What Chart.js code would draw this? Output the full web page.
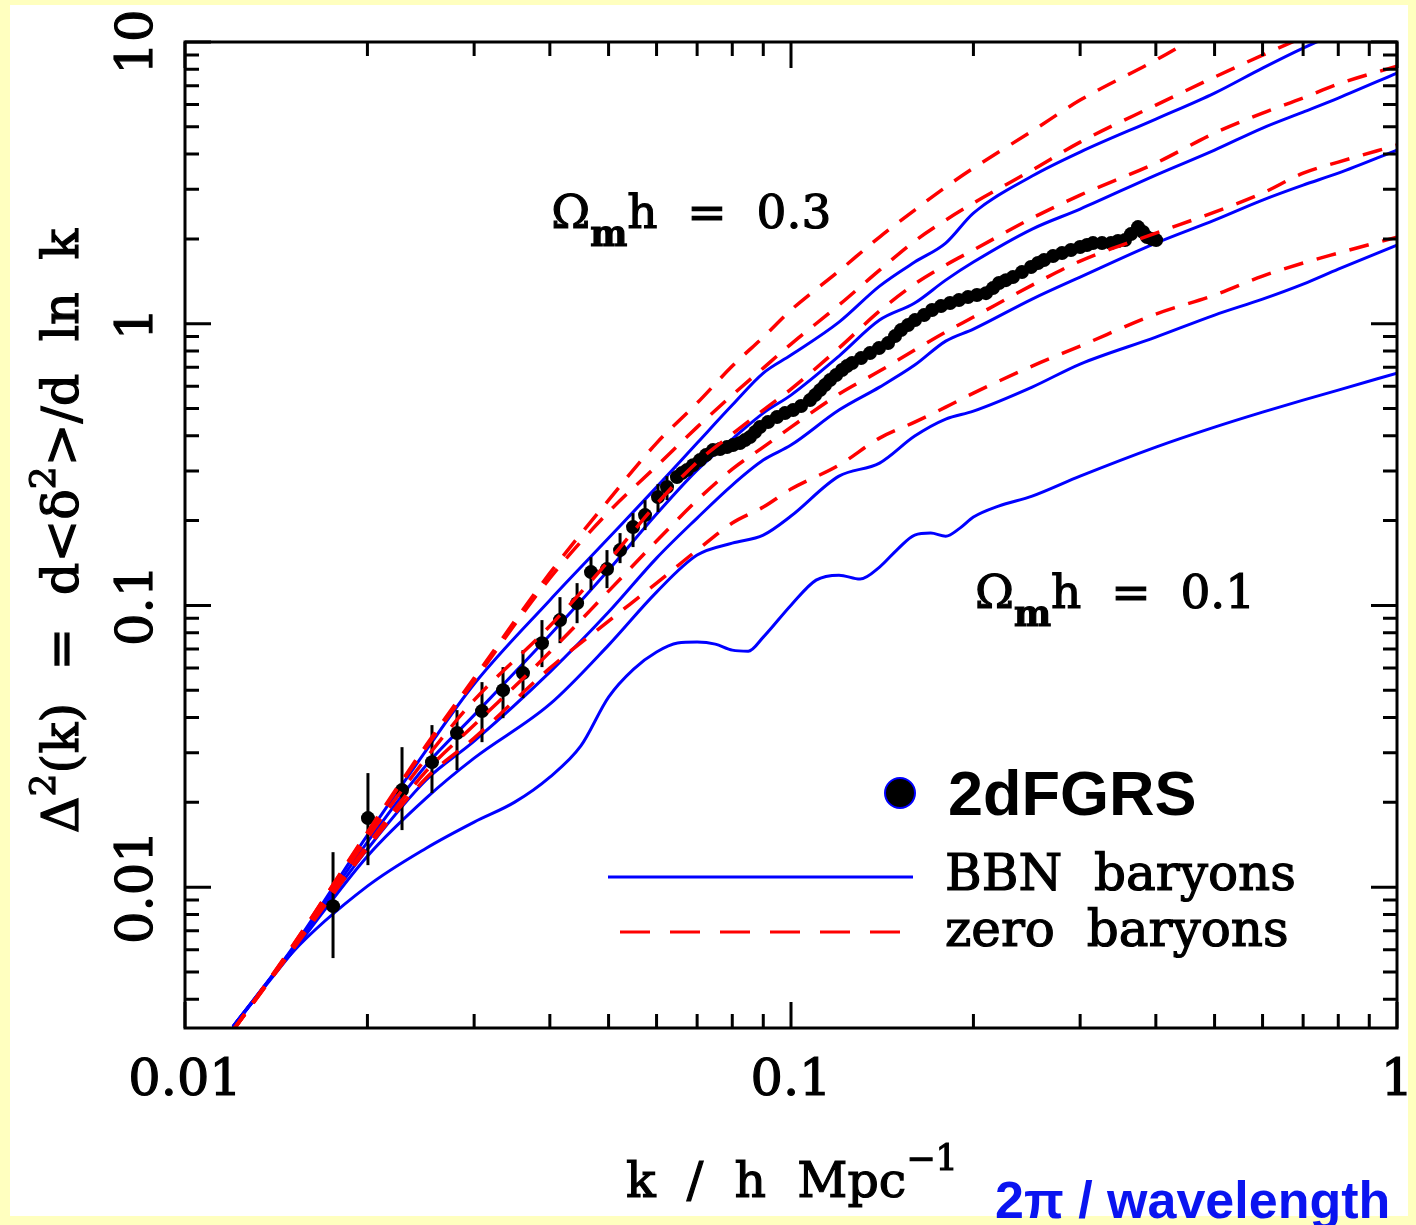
<!DOCTYPE html>
<html>
<head>
<meta charset="utf-8">
<script src="https://cdn.jsdelivr.net/npm/chart.js@4.4.1/dist/chart.umd.min.js"></script>
<style>
  html, body { margin: 0; padding: 0; background: #FFFFBF; }
</style>
</head>
<body>
<canvas id="grafico" width="1416" height="1225"></canvas>
<script>
// Delta^2(k) power spectrum: 2dFGRS points vs model curves (log-log)

// k grid shared by most model curves (h/Mpc)
const kModel = [0.012, 0.015, 0.02, 0.025, 0.03, 0.04, 0.05, 0.06, 0.07, 0.08, 0.09, 0.1,
  0.12, 0.14, 0.16, 0.18, 0.2, 0.25, 0.3, 0.4, 0.5, 0.6, 0.7, 0.8, 1.0];

// zero baryons (red dashed), top to bottom
const cero1 = [0.0031, 0.00612, 0.01568, 0.0319, 0.0552, 0.1302, 0.2365, 0.3770, 0.5228, 0.7073, 0.8963, 1.118,
  1.538, 2.030, 2.532, 3.055, 3.568, 4.829, 6.221, 8.627, 11.4];
const cero2 = [0.0031, 0.00612, 0.01555, 0.0314, 0.0539, 0.1250, 0.2145, 0.3124, 0.4295, 0.5580, 0.6959, 0.8467,
  1.165, 1.550, 1.965, 2.333, 2.681, 3.511, 4.413, 5.972, 7.506, 8.985, 10.4];
const cero3 = [0.0031, 0.00602, 0.01493, 0.0287, 0.0461, 0.0845, 0.1437, 0.2289, 0.3227, 0.4057, 0.4936, 0.5859,
  0.8194, 1.109, 1.383, 1.615, 1.826, 2.371, 2.861, 3.717, 4.750, 5.593, 6.324, 7.091, 8.214];
const cero4 = [0.0031, 0.00597, 0.01409, 0.0258, 0.0376, 0.0683, 0.1124, 0.1692, 0.2365, 0.3047, 0.3648, 0.4295,
  0.5626, 0.6790, 0.8061, 0.9339, 1.056, 1.371, 1.669, 2.097, 2.491, 2.909, 3.424, 3.748, 4.306];
const cero5 = [0.0031, 0.00593, 0.01375, 0.0244, 0.0338, 0.0599, 0.0880, 0.1200, 0.1572, 0.1960, 0.2234, 0.2588,
  0.3148, 0.3926, 0.4474, 0.5058, 0.5671, 0.7073, 0.8329, 1.082, 1.264, 1.476, 1.642, 1.781, 2.030];

// BBN baryons (blue solid), top to bottom
const bbn1 = [0.0032, 0.00602, 0.0153, 0.0306, 0.0526, 0.1044, 0.1734, 0.2630, 0.3770, 0.5142, 0.6679, 0.7738,
  1.013, 1.360, 1.655, 1.933, 2.470, 3.343, 4.067, 5.326, 6.587, 8.082, 9.517, 10.8];
const bbn2 = [0.0032, 0.00597, 0.01445, 0.0271, 0.0408, 0.0785, 0.1335, 0.2110, 0.3022, 0.3894, 0.4817, 0.5580,
  0.7676, 1.030, 1.184, 1.428, 1.655, 2.167, 2.552, 3.370, 4.134, 4.949, 5.640, 6.324, 7.757];
const bbn3 = [0.0032, 0.00593, 0.01364, 0.0240, 0.0330, 0.0580, 0.0947, 0.1472, 0.2042, 0.2674, 0.3280, 0.3708,
  0.4936, 0.5957, 0.7130, 0.8676, 0.9570, 1.223, 1.464, 1.933, 2.333, 2.748, 3.105, 3.424, 4.134];
const bbn4 = [0.0032, 0.00583, 0.01288, 0.0207, 0.0287, 0.0446, 0.0723, 0.1115, 0.1509, 0.1664, 0.1777, 0.2076,
  0.2877, 0.3200, 0.3991, 0.4585, 0.4895, 0.5957, 0.7190, 0.8963, 1.073, 1.223, 1.383, 1.563, 1.902];

// lowest curve (Omega_m h = 0.1) has strong wiggles, finer grid
const kBajo = [0.012, 0.015, 0.02, 0.025, 0.03, 0.035, 0.04, 0.045, 0.05, 0.055, 0.06, 0.065, 0.07, 0.075,
  0.08, 0.085, 0.09, 0.1, 0.11, 0.12, 0.13, 0.14, 0.15, 0.16, 0.17, 0.18, 0.19, 0.2, 0.22, 0.25, 0.3,
  0.4, 0.5, 0.6, 0.7, 0.8, 1.0];
const bbn5 = [0.00318, 0.00583, 0.01008, 0.01375, 0.01702, 0.02003, 0.02458, 0.0317, 0.04725, 0.0594, 0.0683,
  0.0735, 0.0741, 0.0729, 0.0694, 0.0688, 0.0772, 0.1002, 0.1230, 0.1281, 0.1240, 0.1368, 0.1585, 0.1777,
  0.1806, 0.1762, 0.1881, 0.2059, 0.2252, 0.2443, 0.2877, 0.3648, 0.4295, 0.4856, 0.5356, 0.5813, 0.6678];

// 2dFGRS, large scales with error bars
const kSparse = [0.01755, 0.02004, 0.02281, 0.02556, 0.02811, 0.03091, 0.03348, 0.03612, 0.03882, 0.04157,
  0.04436, 0.04677, 0.04970, 0.05223, 0.05487, 0.05743, 0.06033, 0.06243];
const dSparse = [0.00856, 0.01758, 0.02210, 0.02778, 0.03522, 0.04216, 0.05004, 0.05751, 0.07348, 0.0887,
  0.1019, 0.1313, 0.1346, 0.1572, 0.1897, 0.2092, 0.2424, 0.2630];
const loSparse = [0.0056, 0.01197, 0.01594, 0.02157, 0.02602, 0.03271, 0.0398, 0.04688, 0.0604, 0.07348,
  0.0865, 0.1134, 0.1152, 0.1413, 0.1611, 0.1851, 0.2145, 0.2365];
const hiSparse = [0.01331, 0.02540, 0.0314, 0.0376, 0.04250, 0.05343, 0.0604, 0.06940, 0.0887, 0.1070,
  0.1200, 0.1484, 0.1572, 0.1806, 0.2127, 0.2365, 0.2696, 0.2877];

// 2dFGRS, small scales (dense)
const kDense = [0.06483, 0.06607, 0.06735, 0.06891, 0.07076, 0.07239, 0.07435, 0.07636, 0.07842, 0.08022,
  0.08237, 0.08397, 0.08556, 0.08722, 0.08886, 0.09165, 0.09481, 0.09774, 0.1008, 0.1039, 0.1075, 0.1096,
  0.1117, 0.1138, 0.1160, 0.1187, 0.1214, 0.1237, 0.1261, 0.1305, 0.1350, 0.1397, 0.1446, 0.1485, 0.1519,
  0.1560, 0.1602, 0.1658, 0.1709, 0.1768, 0.1830, 0.1893, 0.1959, 0.2027, 0.2098, 0.2154, 0.2204, 0.2263,
  0.2324, 0.2405, 0.2489, 0.2556, 0.2615, 0.2706, 0.2800, 0.2897, 0.2999, 0.3079, 0.3150, 0.3260, 0.3373,
  0.3464, 0.3558, 0.3639, 0.3738, 0.3810, 0.3869, 0.3943, 0.4004];
const dDense = [0.2854, 0.2949, 0.3022, 0.3148, 0.3280, 0.3417, 0.3559, 0.3588, 0.3648, 0.3708,
  0.3770, 0.3863, 0.3958, 0.4124, 0.4295, 0.4474, 0.4661, 0.4817, 0.4936, 0.5101, 0.5356, 0.5580,
  0.5812, 0.6054, 0.6308, 0.6570, 0.6846, 0.7073, 0.7248, 0.7551, 0.7865, 0.8194, 0.8535, 0.9039, 0.9493,
  0.9888, 1.030, 1.073, 1.118, 1.155, 1.184, 1.213, 1.243, 1.264, 1.284, 1.338, 1.394, 1.428,
  1.464, 1.525, 1.589, 1.642, 1.682, 1.738, 1.781, 1.826, 1.871, 1.902, 1.933, 1.933, 1.933,
  1.965, 1.981, 2.080, 2.203, 2.115, 2.030, 1.997, 1.981];

// axis ticks
const xMajor = [0.01, 0.1, 1];
const xLabels = ['0.01', '0.1', '1'];
const yMajor = [0.01, 0.1, 1, 10];
const yLabels = ['0.01', '0.1', '1', '10'];
const Y_MIN = 0.0031623, Y_MAX = 10;

const SERIF = '"DejaVu Serif", "Liberation Serif", serif';
const AZUL = '#0000FF';
const ROJO = '#FF0000';

function puntos(ks, vals) {
  return vals.map((v, i) => ({ x: ks[i], y: v }));
}

function curva(ks, vals, color, dashed) {
  return {
    data: puntos(ks, vals),
    borderColor: color,
    borderWidth: dashed ? 3.5 : 3,
    borderDash: dashed ? [20, 14] : [],
    pointRadius: 0,
    fill: false,
    cubicInterpolationMode: 'monotone',
    order: dashed ? 0 : 2
  };
}

function minors(lo, hi) {
  const out = [];
  for (let d = 0.001; d < hi; d *= 10) {
    for (let m = 2; m <= 9; m++) {
      const v = m * d;
      if (v > lo * 1.0001 && v < hi * 0.9999) out.push(v);
    }
  }
  return out;
}

// filled + thin stroke, to get the heavier plotter look
function escribir(ctx, t, x, y) {
  ctx.fillText(t, x, y);
  ctx.strokeText(t, x, y);
}

// draws a run of text pieces [text, size, dy, bold]
function textoRico(ctx, partes, x, y, medir) {
  let cx = x;
  for (const [t, size, dy, bold] of partes) {
    ctx.font = (bold ? 'bold ' : '') + size + 'px ' + SERIF;
    if (!medir) escribir(ctx, t, cx, y + dy);
    cx += ctx.measureText(t).width;
  }
  return cx - x;
}

const datosObs = puntos(kSparse.concat(kDense), dSparse.concat(dDense));
const IDX_DATOS = 10;

const fondo = {
  id: 'fondo',
  beforeDraw(chart) {
    const ctx = chart.ctx;
    ctx.save();
    ctx.fillStyle = '#FFFFBF';
    ctx.fillRect(0, 0, chart.width, chart.height);
    ctx.fillStyle = '#FFFFFF';
    ctx.fillRect(10, 5, 1398, 1211);
    ctx.restore();
  }
};

const barrasError = {
  id: 'barrasError',
  beforeDatasetDraw(chart, args) {
    if (args.index !== IDX_DATOS) return;
    const { ctx, scales: { x, y } } = chart;
    ctx.save();
    ctx.strokeStyle = '#000';
    ctx.lineWidth = 3;
    kSparse.forEach((k, i) => {
      const px = x.getPixelForValue(k);
      ctx.beginPath();
      ctx.moveTo(px, y.getPixelForValue(loSparse[i]));
      ctx.lineTo(px, y.getPixelForValue(hiSparse[i]));
      ctx.stroke();
    });
    ctx.restore();
  }
};

const ejes = {
  id: 'ejes',
  afterDraw(chart) {
    const { ctx, chartArea: a, scales: { x, y } } = chart;
    ctx.save();
    ctx.strokeStyle = '#000';
    ctx.fillStyle = '#000';
    ctx.lineWidth = 3;
    ctx.lineCap = 'butt';
    ctx.strokeRect(a.left, a.top, a.right - a.left, a.bottom - a.top);

    const MAJ = 26, MIN = 14;
    ctx.beginPath();
    xMajor.forEach(v => {
      const px = x.getPixelForValue(v);
      ctx.moveTo(px, a.bottom); ctx.lineTo(px, a.bottom - MAJ);
      ctx.moveTo(px, a.top); ctx.lineTo(px, a.top + MAJ);
    });
    minors(0.01, 1).forEach(v => {
      const px = x.getPixelForValue(v);
      ctx.moveTo(px, a.bottom); ctx.lineTo(px, a.bottom - MIN);
      ctx.moveTo(px, a.top); ctx.lineTo(px, a.top + MIN);
    });
    yMajor.forEach(v => {
      const py = y.getPixelForValue(v);
      ctx.moveTo(a.left, py); ctx.lineTo(a.left + MAJ, py);
      ctx.moveTo(a.right, py); ctx.lineTo(a.right - MAJ, py);
    });
    minors(Y_MIN, Y_MAX).forEach(v => {
      const py = y.getPixelForValue(v);
      ctx.moveTo(a.left, py); ctx.lineTo(a.left + MIN, py);
      ctx.moveTo(a.right, py); ctx.lineTo(a.right - MIN, py);
    });
    ctx.stroke();

    // tick labels
    ctx.lineWidth = 1.2;
    ctx.font = '51px ' + SERIF;
    ctx.textAlign = 'center';
    ctx.textBaseline = 'alphabetic';
    xMajor.forEach((v, i) => escribir(ctx, xLabels[i], x.getPixelForValue(v), a.bottom + 67));
    yMajor.forEach((v, i) => {
      ctx.save();
      ctx.translate(a.left - 33, y.getPixelForValue(v));
      ctx.rotate(-Math.PI / 2);
      escribir(ctx, yLabels[i], 0, 0);
      ctx.restore();
    });

    ctx.textAlign = 'left';
    // y title
    const tituloY = [['\u0394', 51, 0], ['2', 36, -23], ['(k)  =  d<', 51, 0], ['\u03b4', 51, 0],
      ['2', 36, -23], ['>/d  ln  k', 51, 0]];
    const anchoY = textoRico(ctx, tituloY, 0, 0, true);
    ctx.save();
    ctx.translate(a.left - 107, (a.top + a.bottom) / 2 - 4);
    ctx.rotate(-Math.PI / 2);
    textoRico(ctx, tituloY, -anchoY / 2, 0, false);
    ctx.restore();

    // x title
    textoRico(ctx, [['k  /  h  Mpc', 49, 0], ['\u22121', 35, -27]], 626, a.bottom + 169, false);

    // curve annotations
    const om = (resto) => [['\u03a9', 47, 0], ['m', 35, 18, true], [resto, 47, 0]];
    textoRico(ctx, om('h  =  0.3'), x.getPixelForValue(0.0402), y.getPixelForValue(2.19), false);
    textoRico(ctx, om('h  =  0.1'), x.getPixelForValue(0.2012), y.getPixelForValue(0.0978), false);

    // legend
    const lx = a.left + 423;
    ctx.beginPath();
    ctx.arc(900, 793, 15, 0, Math.PI * 2);
    ctx.fillStyle = '#000';
    ctx.fill();
    ctx.strokeStyle = AZUL;
    ctx.lineWidth = 2;
    ctx.stroke();
    ctx.font = 'bold 63px "Liberation Sans", Arial, sans-serif';
    ctx.fillStyle = '#000';
    ctx.fillText('2dFGRS', 948, 815);

    ctx.lineWidth = 3;
    ctx.strokeStyle = AZUL;
    ctx.beginPath();
    ctx.moveTo(lx, 877); ctx.lineTo(913, 877);
    ctx.stroke();
    ctx.strokeStyle = ROJO;
    ctx.setLineDash([30, 20]);
    ctx.beginPath();
    ctx.moveTo(620, 932); ctx.lineTo(905, 932);
    ctx.stroke();
    ctx.setLineDash([]);
    ctx.strokeStyle = '#000';
    ctx.lineWidth = 1.2;
    ctx.font = '50px ' + SERIF;
    escribir(ctx, 'BBN  baryons', 945, 890);
    escribir(ctx, 'zero  baryons', 945, 946);

    // blue footer note
    ctx.fillStyle = '#0A14F0';
    ctx.font = 'bold 52px "Liberation Sans", Arial, sans-serif';
    ctx.fillText('2\u03c0 / wavelength', 995, 1218);
    ctx.restore();
  }
};

const datasets = [
  curva(kModel, cero1, ROJO, true),
  curva(kModel, cero2, ROJO, true),
  curva(kModel, cero3, ROJO, true),
  curva(kModel, cero4, ROJO, true),
  curva(kModel, cero5, ROJO, true),
  curva(kModel, bbn1, AZUL, false),
  curva(kModel, bbn2, AZUL, false),
  curva(kModel, bbn3, AZUL, false),
  curva(kModel, bbn4, AZUL, false),
  curva(kBajo, bbn5, AZUL, false),
  {
    data: datosObs,
    showLine: false,
    pointRadius: 7,
    pointBackgroundColor: '#000',
    pointBorderColor: '#000',
    pointBorderWidth: 0,
    order: 1
  }
];

new Chart(document.getElementById('grafico'), {
  type: 'line',
  data: { datasets },
  options: {
    responsive: false,
    animation: false,
    layout: { padding: { left: 185, right: 19, top: 42, bottom: 197 } },
    plugins: { legend: { display: false }, tooltip: { enabled: false } },
    scales: {
      x: { type: 'logarithmic', min: 0.01, max: 1, display: false },
      y: { type: 'logarithmic', min: Y_MIN, max: Y_MAX, display: false }
    }
  },
  plugins: [fondo, barrasError, ejes]
});
</script>
</body>
</html>
